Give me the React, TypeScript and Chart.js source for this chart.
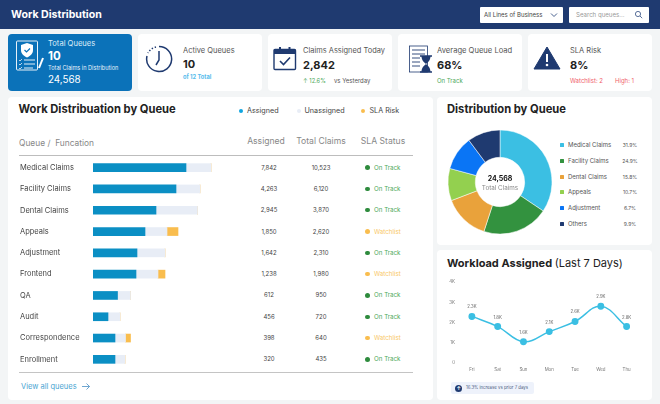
import { Chart, registerables } from "chart.js";
import type { CSSProperties, ReactNode } from "react";
import { useEffect, useRef } from "react";

Chart.register(...registerables);

const FONT = "Inter, sans-serif";

// table
const queues = ["Medical Claims", "Facility Claims", "Dental Claims", "Appeals", "Adjustment", "Frontend", "QA", "Audit", "Correspondence", "Enrollment"];
const assignedText = ["7,842", "4,263", "2,945", "1,850", "1,642", "1,238", "612", "456", "398", "320"];
const totalText = ["10,523", "6,120", "3,870", "2,620", "2,310", "1,980", "950", "720", "640", "435"];
const slaStatus = ["On Track", "On Track", "On Track", "Watchlist", "On Track", "Watchlist", "On Track", "On Track", "Watchlist", "On Track"];

// bar lengths
const barAssigned = [93, 83, 63, 52, 44, 43, 24.5, 15, 22, 22];
const barUnassigned = [25, 24, 41.5, 22, 28, 22, 13, 12, 10.5, 10];
const barRisk = [0, 0, 0, 11, 0, 7, 0, 0, 5, 0];

// doughnut
const sliceLabels = ["Medical Claims", "Facility Claims", "Dental Claims", "Appeals", "Adjustment", "Others"];
const sliceValues = [34.4, 20.6, 14.2, 10, 10.6, 10.2];
const slicePercents = ["31.9%", "24.9%", "15.8%", "10.7%", "6.7%", "9.9%"];
const sliceColors = ["#3bbfe3", "#33923f", "#e9a23b", "#93d04f", "#0a75f5", "#1f3a70"];

// line
const days = ["Fri", "Sat", "Sun", "Mon", "Tue", "Wed", "Thu"];
const workload = [2.3, 1.8, 1.05, 1.55, 2.05, 2.8, 1.8];
const workloadLabels = ["2.3K", "1.8K", "1.6K", "2.1K", "2.6K", "2.9K", "2.8K"];
const yTicks = ["0", "1K", "2K", "3K", "4K"];

const NAVY = "#1f3a70";
const GREEN = "#4da85a";
const ROW_TOP = 157;
const ROW_H = 21.3;

function Txt(p: { x: number; y: number; size: number; color?: string; bold?: boolean; weight?: number; center?: boolean; children: ReactNode }) {
  const style: CSSProperties = {
    position: "absolute",
    left: p.x,
    top: p.y,
    fontSize: p.size,
    color: p.color || "#333",
    fontWeight: p.weight || (p.bold ? 700 : 400),
    whiteSpace: "nowrap",
    lineHeight: 1,
    transform: p.center ? "translate(-50%,-50%)" : "translateY(-50%)",
  };
  return <div style={style}>{p.children}</div>;
}

function Box(p: { x: number; y: number; w: number; h: number; bg?: string; r?: number; border?: string }) {
  return (
    <div
      style={{
        position: "absolute",
        left: p.x,
        top: p.y,
        width: p.w,
        height: p.h,
        background: p.bg || "#fff",
        borderRadius: p.r ?? 4,
        border: p.border,
        boxSizing: "border-box",
      }}
    />
  );
}

function Dot(p: { x: number; y: number; d: number; color: string }) {
  return <Box x={p.x - p.d / 2} y={p.y - p.d / 2} w={p.d} h={p.d} bg={p.color} r={p.d} />;
}

function Icon(p: { x: number; y: number; w: number; h: number; children: ReactNode }) {
  return (
    <svg style={{ position: "absolute", left: p.x, top: p.y }} width={p.w} height={p.h} viewBox={`0 0 ${p.w} ${p.h}`} fill="none">
      {p.children}
    </svg>
  );
}

function QueueBars() {
  const ref = useRef<HTMLCanvasElement>(null);
  useEffect(() => {
    if (!ref.current) return;
    const chart = new Chart(ref.current, {
      type: "bar",
      data: {
        labels: queues,
        datasets: [
          { label: "Assigned", data: barAssigned, backgroundColor: "#0b8fc4" },
          { label: "Unassigned", data: barUnassigned, backgroundColor: "#e8edf6" },
          { label: "SLA Risk", data: barRisk, backgroundColor: "#f9bd4e" },
        ],
      },
      options: {
        indexAxis: "y",
        responsive: false,
        animation: false,
        layout: { padding: 0 },
        datasets: { bar: { barThickness: 8, borderWidth: 0 } },
        plugins: { legend: { display: false }, tooltip: { enabled: false } },
        scales: {
          x: { display: false, stacked: true, min: 0, max: 150 },
          y: {
            stacked: true,
            grid: { display: false, drawTicks: false },
            border: { display: false },
            afterFit: (s: any) => {
              s.width = 73;
              s.paddingTop = 0;
              s.paddingBottom = 0;
            },
            ticks: { crossAlign: "far", padding: 0, autoSkip: false, color: "#444", font: { family: FONT, size: 7.5 } },
          },
        },
      },
    });
    return () => chart.destroy();
  }, []);
  return <canvas ref={ref} width={223} height={213} style={{ position: "absolute", left: 20, top: ROW_TOP }} />;
}

const centerText = {
  id: "centerText",
  afterDraw(chart: Chart) {
    const { ctx, width, height } = chart;
    ctx.save();
    ctx.textAlign = "center";
    ctx.textBaseline = "middle";
    ctx.fillStyle = "#111";
    ctx.font = `700 7px ${FONT}`;
    ctx.fillText("24,568", width / 2, height / 2 - 3);
    ctx.fillStyle = "#888";
    ctx.font = `400 6.3px ${FONT}`;
    ctx.fillText("Total Claims", width / 2, height / 2 + 6);
    ctx.restore();
  },
};

function QueueDoughnut() {
  const ref = useRef<HTMLCanvasElement>(null);
  useEffect(() => {
    if (!ref.current) return;
    const chart = new Chart(ref.current, {
      type: "doughnut",
      data: {
        labels: sliceLabels,
        datasets: [{ data: sliceValues, backgroundColor: sliceColors, borderWidth: 0.5, borderColor: "#fff" }],
      },
      options: {
        responsive: false,
        animation: false,
        radius: 52,
        cutout: 26,
        plugins: { legend: { display: false }, tooltip: { enabled: false } },
      },
      plugins: [centerText],
    });
    return () => chart.destroy();
  }, []);
  return <canvas ref={ref} width={110} height={110} style={{ position: "absolute", left: 445, top: 127 }} />;
}

const pointLabels = {
  id: "pointLabels",
  afterDatasetsDraw(chart: Chart) {
    const { ctx } = chart;
    ctx.save();
    ctx.textAlign = "center";
    ctx.fillStyle = "#666";
    ctx.font = `400 4.3px ${FONT}`;
    chart.getDatasetMeta(0).data.forEach((pt, i) => {
      ctx.fillText(workloadLabels[i], pt.x, pt.y - 8);
    });
    ctx.restore();
  },
};

function WorkloadLine() {
  const ref = useRef<HTMLCanvasElement>(null);
  useEffect(() => {
    if (!ref.current) return;
    const chart = new Chart(ref.current, {
      type: "line",
      data: {
        labels: days,
        datasets: [
          {
            data: workload,
            borderColor: "#3bbfe3",
            backgroundColor: "#3bbfe3",
            borderWidth: 1.5,
            tension: 0.4,
            pointRadius: 2.7,
          },
        ],
      },
      options: {
        responsive: false,
        animation: false,
        layout: { padding: { top: 6, right: 0, left: 0, bottom: 0 } },
        plugins: { legend: { display: false }, tooltip: { enabled: false } },
        scales: {
          x: {
            offset: true,
            grid: { display: false, drawTicks: false },
            border: { display: false },
            afterFit: (s: any) => {
              s.height = 13;
              s.paddingLeft = 0;
              s.paddingRight = 0;
            },
            ticks: { padding: 4, color: "#777", maxRotation: 0, font: { family: FONT, size: 4.4 } },
          },
          y: {
            min: 0,
            max: 4,
            grid: { display: false, drawTicks: false },
            border: { display: false },
            afterFit: (s: any) => {
              s.width = 15;
              s.paddingTop = 0;
              s.paddingBottom = 0;
            },
            ticks: {
              stepSize: 1,
              padding: 4,
              color: "#777",
              font: { family: FONT, size: 4.4 },
              callback: (v: any) => yTicks[v],
            },
          },
        },
      },
      plugins: [pointLabels],
    });
    return () => chart.destroy();
  }, []);
  return <canvas ref={ref} width={201} height={100} style={{ position: "absolute", left: 444, top: 276 }} />;
}

export default function App() {
  return (
    <div style={{ position: "fixed", left: 0, top: 0, width: 660, height: 404, overflow: "hidden", background: "#f3f5f6", fontFamily: FONT }}>
      {/* header */}
      <Box x={0} y={0} w={660} h={29} bg={NAVY} r={0} />
      <Txt x={11} y={14.5} size={10.6} color="#fff" bold>Work Distribution</Txt>
      <Box x={480} y={7} w={83} h={15.5} r={1} />
      <Txt x={484} y={15} size={6} color="#444">All Lines of Business</Txt>
      <Icon x={550} y={12} w={8} h={6}>
        <path d="M1 1.5 L4 4.5 L7 1.5" stroke="#4a6290" strokeWidth="1" />
      </Icon>
      <Box x={569} y={7} w={80} h={15.5} r={1} />
      <Txt x={576} y={15} size={6.1} color="#999">Search queues...</Txt>
      <Icon x={634} y={10} w={9} h={9}>
        <circle cx="4" cy="4" r="2.6" stroke="#4a6290" strokeWidth="0.9" />
        <path d="M6 6 L8.2 8.2" stroke="#4a6290" strokeWidth="0.9" />
      </Icon>

      {/* stat cards */}
      <Box x={8} y={34} w={124} h={57} bg="#0b72b9" />
      <Icon x={15} y={40} w={30} h={32}>
        <rect x="1.5" y="1" width="21" height="29" rx="1" stroke="#fff" strokeWidth="0.9" />
        <path d="M12 3 L18 5 V10 C18 14 15 16 12 17.5 C9 16 6 14 6 10 V5 Z" fill="#fff" />
        <path d="M9.5 10 L11.5 12 L15 8.5" stroke="#0b72b9" strokeWidth="1.2" />
        <path d="M9 20 H20 M9 24 H20 M9 28 H18" stroke="#fff" strokeWidth="0.9" />
        <path d="M4 20 L5 21 L7 19 M4 24 L5 25 L7 23 M4 28 L5 29 L7 27" stroke="#fff" strokeWidth="0.7" />
        <path d="M28 18 L24 28" stroke="#fff" strokeWidth="2" />
      </Icon>
      <Txt x={48} y={43.5} size={7.6} color="#dcecf8">Total Queues</Txt>
      <Txt x={48} y={56.5} size={11.5} color="#fff" bold>10</Txt>
      <Txt x={48} y={69} size={5.6} color="#e6f1fa">Total Claims in Distribution</Txt>
      <Txt x={48} y={79.5} size={9.8} color="#fff">24,568</Txt>

      <Box x={138} y={34} w={124} h={57} />
      <Icon x={145} y={45} w={28} h={28}>
        <path d="M14 1.5 A12.5 12.5 0 1 1 2 11" stroke={NAVY} strokeWidth="1.5" />
        <path d="M11 2 A12.5 12.5 0 0 0 3 8" stroke={NAVY} strokeWidth="1.5" strokeDasharray="1.4 1.8" />
        <path d="M14 6 V15 L11 20" stroke={NAVY} strokeWidth="1.5" />
      </Icon>
      <Txt x={183} y={50.5} size={7.5} color="#555">Active Queues</Txt>
      <Txt x={183} y={64} size={11} color="#222" bold>10</Txt>
      <Txt x={183} y={77} size={5.7} color="#58bcec" bold>of 12 Total</Txt>

      <Box x={268} y={34} w={124} h={57} />
      <Icon x={273} y={46} w={24} h={25}>
        <rect x="1" y="3.5" width="21.5" height="20" rx="1" stroke={NAVY} strokeWidth="1.4" />
        <rect x="1" y="3.5" width="21.5" height="4.5" fill={NAVY} />
        <rect x="6" y="1" width="2" height="5" fill={NAVY} />
        <rect x="15.5" y="1" width="2" height="5" fill={NAVY} />
        <path d="M7 15 L10.5 18.5 L17 11.5" stroke={NAVY} strokeWidth="1.6" />
      </Icon>
      <Txt x={303} y={50.5} size={7.45} color="#555">Claims Assigned Today</Txt>
      <Txt x={303} y={65} size={11} color="#222" bold>2,842</Txt>
      <Txt x={303} y={81} size={5.7} color={GREEN}>↑ 12.6%</Txt>
      <Txt x={334} y={81} size={6} color="#555">vs Yesterday</Txt>

      <Box x={398} y={34} w={124} h={57} />
      <Icon x={406} y={45} w={27} h={28}>
        <rect x="3.5" y="1" width="18" height="26" stroke={NAVY} strokeWidth="0.8" />
        <path d="M6 5 H19 M6 9 H19 M6 13 H14 M6 17 H14 M6 21 H14" stroke={NAVY} strokeWidth="0.9" />
        <path d="M14 11 H26 M14 27 H26" stroke={NAVY} strokeWidth="1.3" />
        <path d="M15.5 11 C15.5 16 19 18 20 19 C19 20 15.5 22 15.5 27 H24.5 C24.5 22 21 20 20 19 C21 18 24.5 16 24.5 11 Z" fill={NAVY} />
      </Icon>
      <Txt x={437} y={50.5} size={7.6} color="#555">Average Queue Load</Txt>
      <Txt x={437} y={65} size={11} color="#222" bold>68%</Txt>
      <Txt x={437} y={81} size={6} color={GREEN}>On Track</Txt>

      <Box x={528} y={34} w={124} h={57} />
      <Icon x={533} y={45} w={28} h={25}>
        <path d="M14 2 L27 24 H1 Z" fill={NAVY} stroke={NAVY} strokeWidth="1" strokeLinejoin="round" />
        <rect x="13" y="9" width="2" height="8" fill="#fff" />
        <circle cx="14" cy="20" r="1.3" fill="#fff" />
      </Icon>
      <Txt x={570} y={50.5} size={7.5} color="#555">SLA Risk</Txt>
      <Txt x={570} y={65} size={11} color="#222" bold>8%</Txt>
      <Txt x={570} y={81} size={6} color="#f0606a">Watchlist: 2</Txt>
      <Txt x={615} y={81} size={6} color="#f0606a">High: 1</Txt>

      {/* left panel */}
      <Box x={8} y={97} w={425} h={303} />
      <Txt x={18.5} y={110} size={11.2} color="#222" bold>Work Distribuation by Queue</Txt>
      <Dot x={241} y={110.5} d={4} color="#10a5e0" />
      <Txt x={247} y={110.5} size={7.2} color="#444">Assigned</Txt>
      <Dot x={298.5} y={110.5} d={4} color="#e8edf6" />
      <Txt x={304.5} y={110.5} size={7.2} color="#444">Unassigned</Txt>
      <Dot x={363} y={110.5} d={4} color="#f9bd4e" />
      <Txt x={369.5} y={110.5} size={7.2} color="#444">SLA Risk</Txt>

      <Txt x={19} y={143} size={8.4} color="#888">Queue /{"\u00a0 "}Funcation</Txt>
      <Txt x={266} y={141} size={8.6} color="#888" center>Assigned</Txt>
      <Txt x={321} y={141} size={8.6} color="#888" center>Total Claims</Txt>
      <Txt x={383} y={141} size={8.6} color="#888" center>SLA Status</Txt>
      <Box x={18.5} y={155} w={394.5} h={1} bg="#bdbdbd" r={0} />
      <Box x={18.5} y={371.5} w={394.5} h={1} bg="#c4c4c4" r={0} />

      <QueueBars />
      {queues.map((q, i) => {
        const y = ROW_TOP + ROW_H * (i + 0.5);
        const watch = slaStatus[i] === "Watchlist";
        return (
          <div key={q}>
            <Txt x={269} y={y} size={6} color="#444" center>{assignedText[i]}</Txt>
            <Txt x={321} y={y} size={6} color="#444" center>{totalText[i]}</Txt>
            <Dot x={367.5} y={y} d={4.4} color={watch ? "#f9bd4e" : "#2e8b3d"} />
            <Txt x={374} y={y} size={6.2} color={watch ? "#f9c765" : GREEN}>{slaStatus[i]}</Txt>
          </div>
        );
      })}
      <Txt x={21} y={386.5} size={7.5} color="#4aa5d2">View all queues</Txt>
      <Icon x={81} y={382} w={10} h={9}>
        <path d="M1 4.5 H8.5 M5.5 1.5 L8.5 4.5 L5.5 7.5" stroke="#4a8fc4" strokeWidth="0.8" />
      </Icon>

      {/* doughnut panel */}
      <Box x={437} y={97} w={215} h={148} />
      <Txt x={447} y={110} size={11.2} color="#222" bold>Distribution by Queue</Txt>
      <QueueDoughnut />
      {sliceLabels.map((s, i) => {
        const y = 145 + i * 15.8;
        return (
          <div key={s}>
            <Box x={560} y={y - 2} w={4} h={4} bg={sliceColors[i]} r={0.5} />
            <Txt x={568} y={y} size={6} color="#555">{s}</Txt>
            <Txt x={630} y={y} size={5} color="#555" center>{slicePercents[i]}</Txt>
          </div>
        );
      })}

      {/* workload panel */}
      <Box x={437} y={250} w={215} h={150} />
      <Txt x={447} y={263} size={11} color="#222" bold>
        Workload Assigned <span style={{ fontWeight: 400 }}>(Last 7 Days)</span>
      </Txt>
      <WorkloadLine />
      <Box x={451} y={382} w={83} h={12} bg="#eef2fb" r={2} />
      <Dot x={458} y={388} d={7} color={NAVY} />
      <Txt x={456.5} y={388} size={5} color="#fff" bold>↑</Txt>
      <Txt x={466} y={388} size={4.3} color="#4a5a80">16.3% increase vs prior 7 days</Txt>
    </div>
  );
}
